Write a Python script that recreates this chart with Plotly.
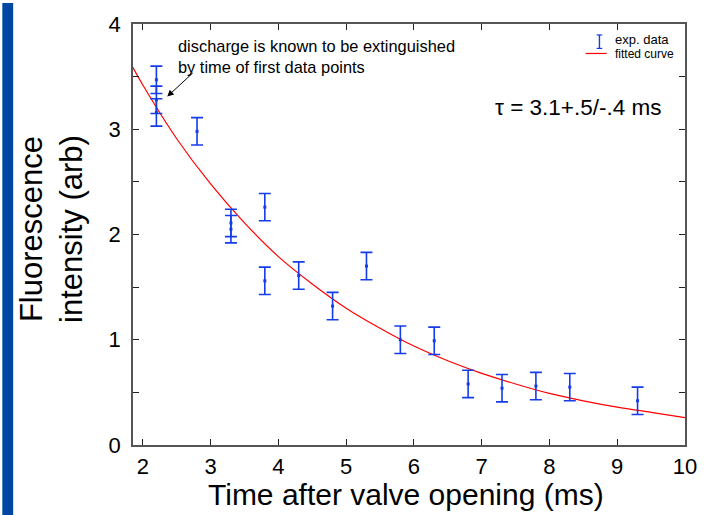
import plotly.graph_objects as go

# ---- data ----
time_ms = [2.2, 2.2, 2.2, 2.8, 3.3, 3.3, 3.8, 3.8, 4.3, 4.8, 5.3, 5.8, 6.3, 6.8, 7.3, 7.8, 8.3, 9.3]
intensity = [3.47, 3.28, 3.16, 2.98, 2.11, 2.05, 2.26, 1.56, 1.61, 1.32, 1.70, 1.00, 0.99, 0.58, 0.54, 0.56, 0.55, 0.42]
err = [0.13] * len(time_ms)

fit_t = [1.85, 2.0, 2.5, 3.0, 3.5, 4.0, 4.5, 5.0, 5.5, 6.0, 6.5, 7.0, 7.5, 8.0, 8.5, 9.0, 9.5, 10.0]
fit_y = [3.59, 3.42, 2.91, 2.48, 2.11, 1.79, 1.53, 1.30, 1.11, 0.94, 0.80, 0.68, 0.58, 0.49, 0.42, 0.36, 0.31, 0.26]

x_ticks = [2, 3, 4, 5, 6, 7, 8, 9, 10]
y_ticks = [0, 0.5, 1, 1.5, 2, 2.5, 3, 3.5, 4]
y_ticktext = ["0", "", "1", "", "2", "", "3", "", "4"]

BLUE = "rgb(20,60,235)"
RED = "rgb(255,0,0)"
FONT = "Liberation Sans, Arial, sans-serif"

fig = go.Figure()
fig.add_trace(go.Scatter(
    x=fit_t, y=fit_y, mode="lines", line=dict(color=RED, width=1.2, shape="spline"),
    name="fitted curve", showlegend=False, hoverinfo="skip"))
fig.add_trace(go.Scatter(
    x=time_ms, y=intensity, mode="markers",
    marker=dict(symbol="square", size=3, color=BLUE),
    error_y=dict(type="data", array=err, visible=True, color=BLUE, thickness=1.6, width=6),
    name="exp. data", showlegend=False))

axis_common = dict(
    showline=True, linecolor="#555555", linewidth=1.5, mirror="ticks",
    ticks="inside", ticklen=6, tickcolor="#222222", tickwidth=1,
    showgrid=False, zeroline=False,
    tickfont=dict(family=FONT, size=22, color="black"),
)

fig.update_xaxes(range=[1.855, 10], tickvals=x_ticks, ticklabelstandoff=1, **axis_common)
fig.update_yaxes(range=[0, 4], tickvals=y_ticks, ticktext=y_ticktext, ticklabelstandoff=6, **axis_common)

annotations = [
    dict(text="Fluorescence<br>intensity (arb)", xref="paper", yref="paper",
         x=-0.148, y=0.514, textangle=-90, showarrow=False,
         font=dict(family=FONT, size=31, color="black"), xanchor="center", yanchor="middle"),
    dict(text="Time after valve opening (ms)", xref="paper", yref="paper",
         x=0.495, y=-0.1165, showarrow=False,
         font=dict(family=FONT, size=30, color="black"), xanchor="center", yanchor="middle"),
    dict(text="discharge is known to be extinguished<br>by time of first data points",
         xref="paper", yref="paper", x=0.078, y=0.975, xanchor="left", yanchor="top",
         align="left", showarrow=False,
         font=dict(family=FONT, size=16.4, color="black")),
    dict(text="", x=2.36, y=3.31, xref="x", yref="y", showarrow=True,
         ax=27, ay=-25, arrowhead=2, arrowsize=1.3, arrowwidth=1, arrowcolor="black"),
    dict(text="τ = 3.1+.5/-.4 ms", xref="paper", yref="paper", x=0.653, y=0.801,
         xanchor="left", yanchor="middle", showarrow=False,
         font=dict(family=FONT, size=22.5, color="black")),
    dict(text="exp. data", xref="paper", yref="paper", x=0.870, y=0.963,
         xanchor="left", yanchor="middle", showarrow=False,
         font=dict(family=FONT, size=13, color="black")),
    dict(text="fitted curve", xref="paper", yref="paper", x=0.870, y=0.928,
         xanchor="left", yanchor="middle", showarrow=False,
         font=dict(family=FONT, size=12, color="black")),
]

shapes = [
    # left blue strip of the slide
    dict(type="rect", xref="paper", yref="paper", x0=-0.2367, x1=-0.2171, y0=-0.17, y1=1.05,
         fillcolor="#0047a3", line=dict(width=0), layer="below"),
    # legend glyphs
    dict(type="line", xref="paper", yref="paper", x0=0.845, x1=0.845, y0=0.942, y1=0.974,
         line=dict(color=BLUE, width=1.4)),
    dict(type="line", xref="paper", yref="paper", x0=0.840, x1=0.850, y0=0.974, y1=0.974,
         line=dict(color=BLUE, width=1.2)),
    dict(type="line", xref="paper", yref="paper", x0=0.840, x1=0.850, y0=0.942, y1=0.942,
         line=dict(color=BLUE, width=1.2)),
    dict(type="line", xref="paper", yref="paper", x0=0.820, x1=0.858, y0=0.930, y1=0.930,
         line=dict(color=RED, width=1.2)),
]

fig.update_layout(
    width=709, height=515,
    margin=dict(l=133, r=14, t=16, b=70),
    paper_bgcolor="white", plot_bgcolor="white",
    font=dict(family=FONT, color="black"),
    annotations=annotations, shapes=shapes, showlegend=False,
)

fig.write_html("out.html", config={"displayModeBar": False},
               post_script="document.body.style.margin='0';document.body.style.overflow='hidden';")
